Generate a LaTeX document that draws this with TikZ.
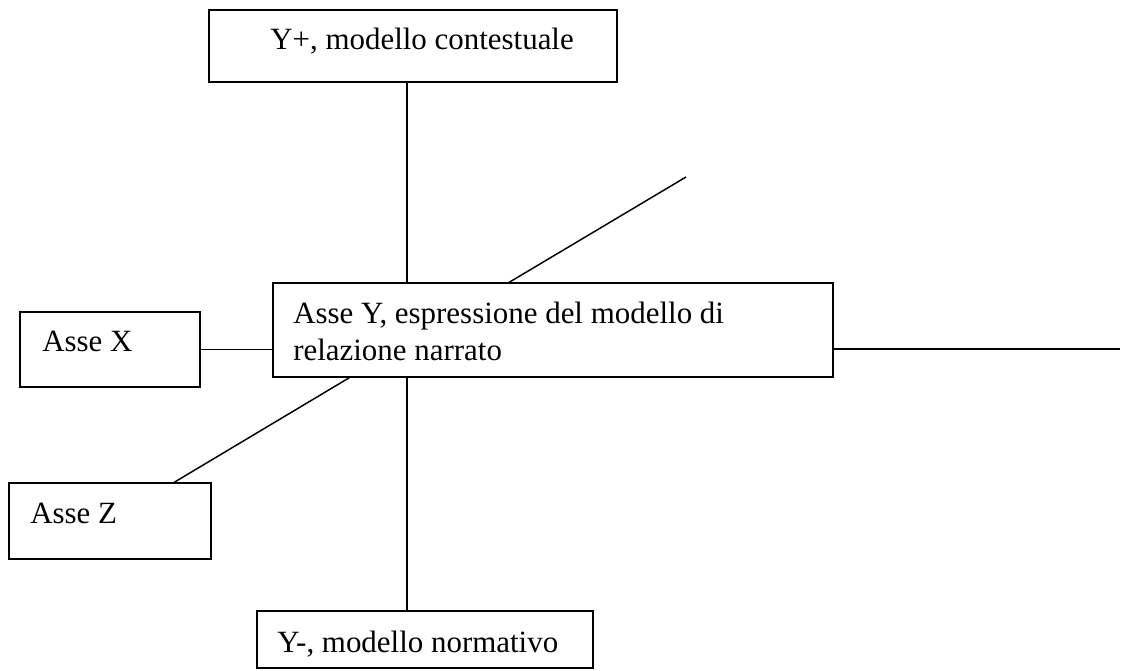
\documentclass[tikz,border=0pt]{standalone}
\usepackage{fontspec}
\setmainfont{Liberation Serif}
\begin{document}
\begin{tikzpicture}[x=0.75pt,y=-0.75pt,
  box/.style n args={2}{draw=black, line width=1.1pt, minimum width=#1*0.75pt, minimum height=#2*0.75pt, inner sep=0pt, fill=none},
  lbl/.style={anchor=base west, inner sep=0pt, font=\fontsize{23.2}{27.75}\selectfont},
  conn/.style={draw=black, line width=1.1pt}]
\useasboundingbox (0,0) rectangle (1126,670);
% boxes
\node[box={408}{72}] (top) at (413,46) {};
\node[box={560}{94}] (center) at (553,330) {};
\node[box={180}{75}] (asseX) at (110,349.5) {};
\node[box={202}{76}] (asseZ) at (110,521) {};
\node[box={336}{57}] (bottom) at (425,639.5) {};
% texts
\node[lbl] (tTop) at (270,50) {Y+, modello contestuale};
\node[lbl] (tC1) at (293,323) {Asse Y, espressione del modello di};
\node[lbl] (tC2) at (293,360) {relazione narrato};
\node[lbl] (tX) at (42,351) {Asse X};
\node[lbl] (tZ) at (30,523) {Asse Z};
\node[lbl] (tB) at (277,652) {Y-, modello normativo};
% helper coordinates
\coordinate (vx) at (407,0);
\coordinate (rEnd) at (1120,349);
\coordinate (dUp) at (686,177);
% connectors
\draw[conn] (top.south -| vx) -- (center.north -| vx);
\draw[conn] (center.south -| vx) -- (bottom.north -| vx);
\draw[conn] (asseX.east) -- (asseX.east -| center.west);
\draw[conn] (center.east |- rEnd) -- (rEnd);
\draw[conn] ([xshift=237*0.75pt]center.north west) -- (dUp);
\draw[conn] ([xshift=77*0.75pt]center.south west) -- ([xshift=166*0.75pt]asseZ.north west);
\end{tikzpicture}
\end{document}
